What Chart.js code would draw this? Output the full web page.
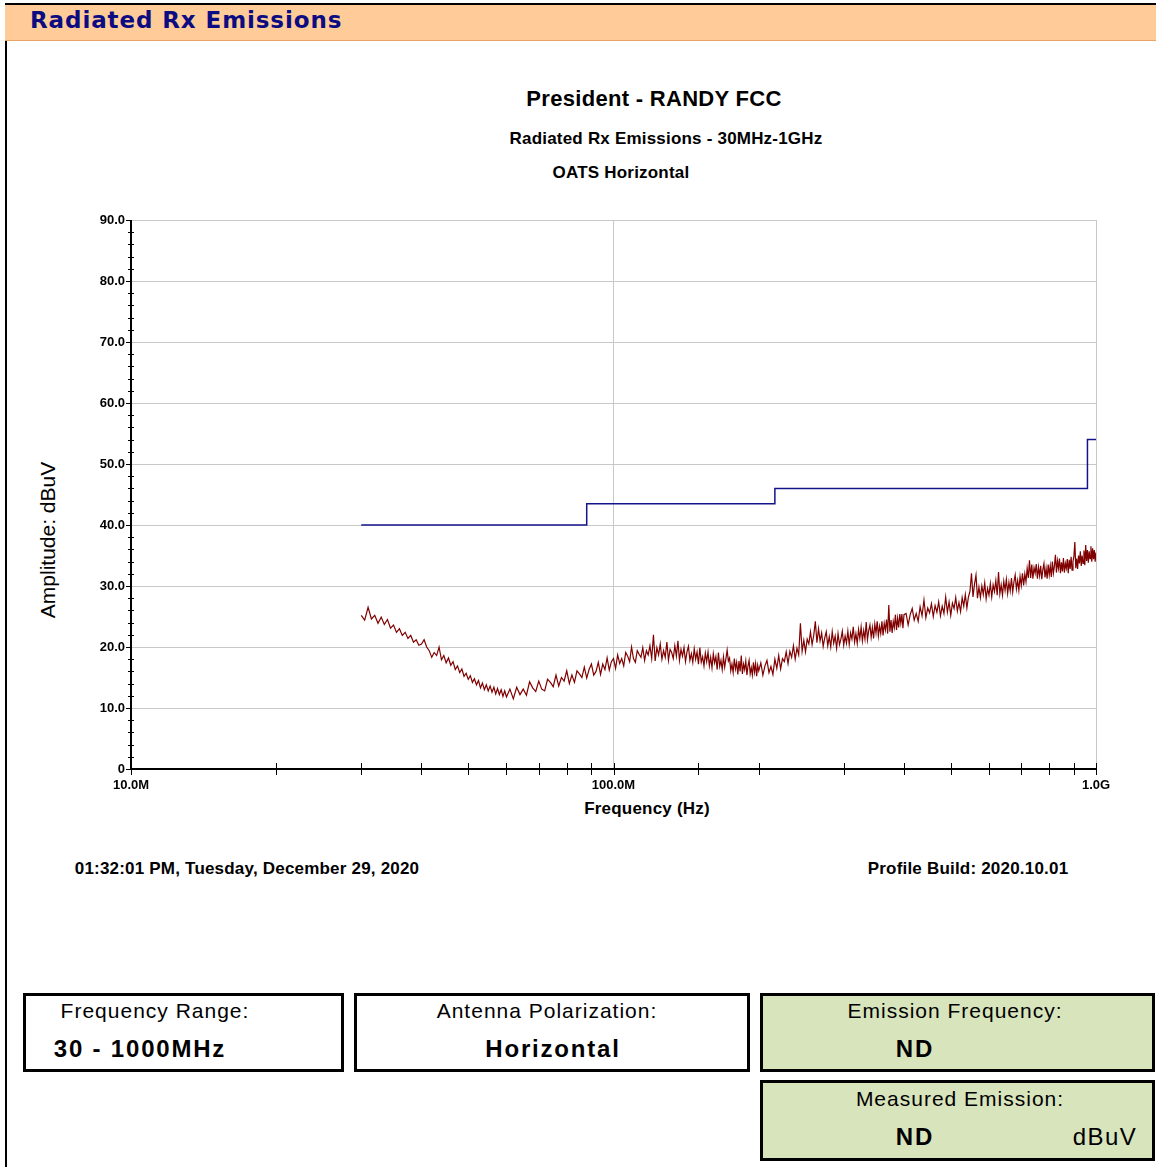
<!DOCTYPE html>
<html>
<head>
<meta charset="utf-8">
<script src="https://cdn.jsdelivr.net/npm/chart.js@4.4.1/dist/chart.umd.min.js"></script>
<style>
  html, body { margin: 0; padding: 0; background: #fff; }
  body { width: 1156px; height: 1167px; position: relative; overflow: hidden;
         font-family: 'Liberation Sans', Arial, sans-serif; color: #000; }
  .rule { position: absolute; left: 5px; top: 3px; width: 2px; height: 1164px; background: #000; }
  .header { position: absolute; left: 5px; top: 3px; right: 0; height: 38px; background: #FFCC99;
            border-top: 2px solid #000; border-bottom: 1px solid #E6A565; box-sizing: border-box; }
  .header span { position: absolute; left: 25px; top: 2px; font: bold 23px 'DejaVu Sans', Verdana, sans-serif;
                 color: #0B0B82; letter-spacing: 0.9px; }
  .t { position: absolute; transform: translate(-50%, -50%); white-space: nowrap; line-height: 1; }
  .b16 { font-weight: bold; font-size: 17px; letter-spacing: 0.2px; }
  .box { position: absolute; border: 3px solid #000; box-sizing: border-box; }
  .green { background: #D8E4BC; }
  .lbl { font-size: 21px; letter-spacing: 1px; }
  .val { font-size: 24px; font-weight: bold; letter-spacing: 1.8px; }
  #wrap { position: absolute; left: 0; top: 200px; width: 1156px; height: 640px; }
</style>
</head>
<body>
<div class="rule"></div>
<div class="header"><span>Radiated Rx Emissions</span></div>

<div class="t" style="left:654px;top:99px;font-weight:bold;font-size:22px;letter-spacing:0.3px;">President - RANDY FCC</div>
<div class="t b16" style="left:666px;top:138px;">Radiated Rx Emissions - 30MHz-1GHz</div>
<div class="t b16" style="left:621px;top:172px;">OATS Horizontal</div>
<div class="t" style="left:47px;top:540px;font-size:21px;transform:translate(-50%,-50%) rotate(-90deg);">Amplitude: dBuV</div>
<div class="t b16" style="left:647px;top:808px;">Frequency (Hz)</div>

<div id="wrap"><canvas id="emissionChart" width="1156" height="640"></canvas></div>

<div class="t b16" style="left:247px;top:868px;">01:32:01 PM, Tuesday, December 29, 2020</div>
<div class="t b16" style="left:968px;top:868px;">Profile Build: 2020.10.01</div>

<div class="box" style="left:23px;top:993px;width:321px;height:79px;"></div>
<div class="box" style="left:354px;top:993px;width:396px;height:79px;"></div>
<div class="box green" style="left:760px;top:993px;width:395px;height:79px;"></div>
<div class="box green" style="left:760px;top:1080px;width:395px;height:81px;"></div>

<div class="t lbl" style="left:155px;top:1010px;">Frequency Range:</div>
<div class="t val" style="left:140px;top:1049px;">30 - 1000MHz</div>
<div class="t lbl" style="left:547px;top:1010px;">Antenna Polarization:</div>
<div class="t val" style="left:553px;top:1049px;">Horizontal</div>
<div class="t lbl" style="left:955px;top:1010px;">Emission Frequency:</div>
<div class="t val" style="left:915px;top:1049px;">ND</div>
<div class="t lbl" style="left:960px;top:1098px;">Measured Emission:</div>
<div class="t val" style="left:915px;top:1137px;">ND</div>
<div class="t" style="left:1105px;top:1137px;font-size:24px;letter-spacing:1.5px;">dBuV</div>

<script>
// x values in MHz, y values in dBuV
const xMajorTicks = [10, 100, 1000];
const xTickLabels = ['10.0M', '100.0M', '1.0G'];
const yMin = 0, yMax = 90, yStep = 10, yMinorStep = 2;

// FCC class B limit (stepped)
const limitLine = [
  [30, 40], [88, 40], [88, 43.5], [216, 43.5], [216, 46], [960, 46], [960, 54], [1000, 54]
];

// measured trace, horizontal polarization
const traceHorizontal = [
  [30,25.2],[30.5,24.4],[31,26.5],[31.5,24.6],[32,25.2],[32.5,23.9],[33,24.9],[33.5,23.7],[34,24.5],[34.5,23.1],
  [35,23.6],[35.5,22.4],[36,23],[36.5,21.9],[37,22.4],[37.5,21.4],[38,21.9],[38.5,20.8],[39,21.2],[39.5,20.3],
  [40,20.5],[40.5,21.2],[41,20],[41.5,19.4],[42,18.3],[42.5,19.1],[43,18.6],[43.5,20],[44,17.9],[44.5,18.6],
  [45,17.4],[45.5,18.2],[46,17],[46.5,17.6],[47,16.3],[47.5,16.9],[48,15.8],[48.5,16.4],[49,15.2],[49.5,15.7],
  [50,14.7],[50.5,15.3],[51,14.2],[51.5,14.8],[52,13.8],[52.5,14.5],[53,13.3],[53.5,14.1],[54,13],[54.5,13.8],
  [55,12.8],[55.5,13.6],[56,12.6],[56.5,13.4],[57,12.3],[57.5,13.2],[58,12.2],[58.5,13],[59,11.9],[59.5,12.8],
  [60,11.8],[61,13.1],[62,11.5],[63,13.4],[64,12.2],[65,13.1],[66,12.1],[67,14.3],[68,13.3],[69,12.7],
  [70,14.4],[71,13.1],[72,12.8],[73,14.7],[74,14.2],[75,13.5],[76,15.4],[77,13.6],[78,15],[79,14.4],
  [80,16.1],[81,14],[82,15.4],[83,14.2],[84,16.1],[85,15.6],[86,15],[87,16.7],[88,14.9],[89,16.3],
  [90,17.2],[91,15.4],[92,16],[93,17.5],[94,15.5],[95,17.2],[96,16.3],[97,18.2],[98,16.2],[99,17.6],
  [100,18.1],[101,16.5],[102,18.7],[103,17.3],[104,18.1],[105,16.9],[106,19.1],[107,18.5],[108,17.6],[109,20],
  [110,18.1],[111,17.5],[112,19.4],[113,18.8],[114,18.3],[115,19.9],[116,17.8],[117,19.4],[118,18.7],[119,20.2],
  [120,18.1],[121,22],[122,17.7],[123,19.9],[124,18.7],[125,20.5],[126,18],[127,19.4],[128,18.3],[129,20.8],
  [130,17.8],[131,19.6],[132,19.1],[133,18.1],[134,20.2],[135,18.5],[136,21],[137,17.8],[138,19.6],[139,18.5],
  [140,19.9],[141,17.6],[142,19.2],[143,20.1],[144,17.8],[145,18.9],[146,17.5],[147,19.7],[148,18],[149,19.2],
  [150,17.2],[151,19.9],[152,17.5],[153,18.4],[154,16.9],[155,19],[156,17.6],[157,19.2],[158,16.9],[159,18.3],
  [160,16.6],[161,18.9],[162,17.4],[163,18.4],[164,16.3],[165,19.1],[166,16.8],[167,17.8],[168,16.3],[169,18.4],
  [170,16.7],[171,18.1],[172,19.5],[173,17.7],[174,18.2],[175,16.1],[176,17.2],[177,15.8],[178,18.1],[179,16.4],
  [180,17.5],[181,15.5],[182,17.7],[183,16],[184,18.6],[185,15.6],[186,17.2],[187,16.3],[188,17.7],[189,15.4],
  [190,16.9],[191,17.8],[192,15.6],[193,16.6],[194,15.4],[195,17.5],[196,15.9],[197,17.3],[198,15.2],[199,17],
  [200,16.1],[202,17.4],[204,15.4],[206,16.9],[208,17.8],[210,15.8],[212,16.8],[214,15.5],[216,18],[218,16.5],
  [220,18.6],[222,16.4],[224,18.1],[226,17.6],[228,19.2],[230,17.3],[232,19.3],[234,18.3],[236,20.2],[238,18],
  [240,19.8],[242,18.7],[244,23.9],[246,19.3],[248,21.1],[250,19.2],[252,21.3],[254,20.5],[256,22.5],[258,20.4],
  [260,21.9],[262,24.2],[264,20.7],[266,23],[268,21],[270,22.3],[272,20.1],[274,21.5],[276,22.5],[278,20.2],
  [280,21.7],[282,20],[284,22.5],[286,20.6],[288,21.8],[290,19.8],[292,22.2],[294,20.4],[296,21.3],[298,22.6],
  [300,20.3],[302,21.8],[304,20.6],[306,22.6],[308,20.4],[310,22.3],[312,21.3],[314,23.3],[316,20.8],[318,22.2],
  [320,20.6],[322,22.9],[324,21.4],[326,23.3],[328,21],[330,22.7],[332,21.3],[334,24.1],[336,21.2],[338,22.7],
  [340,23.6],[342,21.6],[344,23.2],[346,21.4],[348,23.8],[350,22.3],[352,24.2],[354,21.8],[356,23.4],[358,22.2],
  [360,24.2],[362,21.9],[364,23.9],[366,22.8],[368,24.5],[370,22.2],[372,26.9],[374,22.5],[376,24.4],[378,22.3],
  [380,24.2],[382,23.2],[384,25.3],[386,22.8],[388,24.7],[390,23.2],[392,25.4],[394,23.9],[396,25.4],[398,23.1],
  [400,25.3],[404,25.5],[408,23.6],[412,25.3],[416,26.3],[420,24.4],[424,25.5],[428,24.2],[432,26.6],[436,25.1],
  [440,27.7],[444,24.8],[448,26.4],[452,25.6],[456,27.1],[460,25],[464,26.8],[468,25.7],[472,27.4],[476,25.1],
  [480,26.7],[484,25.5],[488,28.2],[492,25.7],[496,27.4],[500,25.2],[504,27.2],[508,26.3],[512,28.1],[516,25.9],
  [520,27.3],[524,25.8],[528,28.1],[532,26.7],[536,28.6],[540,26.4],[544,28.2],[548,29.1],[552,32.1],[556,28.2],
  [560,30.3],[564,31.8],[568,28],[572,29.8],[576,28.1],[580,30],[584,28.6],[588,30.5],[592,27.9],[596,29.6],
  [600,28.5],[604,30.4],[608,28.2],[612,30.2],[616,29.1],[620,30.9],[624,28.5],[628,32.3],[632,28.7],[636,30.2],
  [640,28.5],[644,30.8],[648,29.3],[652,31.1],[656,28.8],[660,30.6],[664,29.2],[668,31.3],[672,29],[676,30.7],
  [680,31.8],[684,29.5],[688,30.9],[692,29.3],[696,31.6],[700,30.1],[704,32.1],[708,30.1],[712,32],[716,30.7],
  [720,32.9],[724,31.3],[728,34.2],[732,31.3],[736,33.5],[740,31.2],[744,33],[748,32.1],[752,33.6],[756,31.2],
  [760,33.1],[764,31.7],[768,33.3],[772,31.1],[776,32.7],[780,33.7],[784,31.4],[788,32.9],[792,31.2],[796,33.5],
  [800,31.8],[804,33.3],[808,31.5],[812,34],[816,32.1],[820,33.3],[824,35.1],[828,32.2],[832,34.1],[836,32.9],
  [840,34.5],[844,32.1],[848,33.9],[852,32.4],[856,34.6],[860,32.2],[864,33.7],[868,32.9],[872,34.4],[876,32.1],
  [880,34.3],[884,32.8],[888,34.8],[892,32.6],[896,34],[900,34.9],[904,37.2],[908,32.9],[912,34.5],[916,32.8],
  [920,35],[924,33.7],[928,35.7],[932,33.3],[936,35],[940,33.7],[944,35.8],[948,33.4],[952,36.7],[956,34.1],
  [960,35.9],[964,33.8],[968,35.7],[972,34.5],[976,36.5],[980,34],[984,36.2],[988,34.4],[992,35.9],[996,34],
  [1000,35.5]
];

const isMajorX = v => xMajorTicks.some(m => Math.abs(m - v) < 1e-6);

// axis lines + tick marks that cross the axes, like the original plot
const axisMarks = {
  id: 'axisMarks',
  afterDraw(chart) {
    const { ctx, chartArea: a, scales: { x, y } } = chart;
    ctx.save();
    ctx.strokeStyle = '#000';
    ctx.lineWidth = 1;
    ctx.beginPath();
    for (let v = yMin; v <= yMax; v += yMinorStep) {
      if (v % yStep === 0) continue;
      const py = Math.round(y.getPixelForValue(v)) + 0.5;
      ctx.moveTo(a.left - 3, py);
      ctx.lineTo(a.left + 3, py);
    }
    x.ticks.forEach(t => {
      const px = Math.round(x.getPixelForValue(t.value)) + 0.5;
      ctx.moveTo(px, a.bottom - 6);
      ctx.lineTo(px, a.bottom + 6);
    });
    ctx.stroke();

    ctx.lineWidth = 2;
    ctx.beginPath();
    ctx.moveTo(Math.round(a.left), a.top);
    ctx.lineTo(Math.round(a.left), Math.round(a.bottom));
    ctx.lineTo(a.right, Math.round(a.bottom));
    ctx.stroke();
    ctx.restore();
  }
};

const EmissionChart = {
  chart: null,

  init() {
    const el = document.getElementById('emissionChart');
    if (!el) return;
    const tickFont = { family: "'Liberation Sans', Arial, sans-serif", size: 13, weight: 'bold' };

    this.chart = new Chart(el.getContext('2d'), {
      type: 'line',
      data: {
        datasets: [
          {
            label: 'Limit',
            data: limitLine.map(([f, v]) => ({ x: f, y: v })),
            borderColor: '#14148A',
            borderWidth: 1.5,
            pointRadius: 0,
            tension: 0
          },
          {
            label: 'Horizontal',
            data: traceHorizontal.map(([f, v]) => ({ x: f, y: v })),
            borderColor: '#800000',
            borderWidth: 1.2,
            pointRadius: 0,
            tension: 0
          }
        ]
      },
      options: {
        responsive: false,
        animation: false,
        events: [],
        layout: { padding: { left: 31, right: 60, top: 20, bottom: 31 } },
        plugins: { legend: { display: false }, tooltip: { enabled: false } },
        scales: {
          x: {
            type: 'logarithmic',
            min: 10,
            max: 1000,
            afterFit: s => { s.height = 40; },
            border: { display: false },
            grid: {
              drawTicks: false,
              color: c => (c.tick && isMajorX(c.tick.value) && c.tick.value > 10) ? '#C8C8C8' : 'rgba(0,0,0,0)'
            },
            ticks: {
              autoSkip: false,
              maxRotation: 0,
              padding: 9,
              color: '#000',
              font: tickFont,
              callback: v => {
                const i = xMajorTicks.findIndex(m => Math.abs(m - v) < 1e-6);
                return i >= 0 ? xTickLabels[i] : '';
              }
            }
          },
          y: {
            min: yMin,
            max: yMax,
            afterFit: s => { s.width = 100; },
            border: { display: false },
            grid: { color: '#C8C8C8', tickColor: '#000', tickLength: 5 },
            ticks: {
              stepSize: yStep,
              padding: 1,
              color: '#000',
              font: tickFont,
              callback: v => v === 0 ? '0' : v.toFixed(1)
            }
          }
        }
      },
      plugins: [axisMarks]
    });
  }
};

EmissionChart.init();
</script>
</body>
</html>
